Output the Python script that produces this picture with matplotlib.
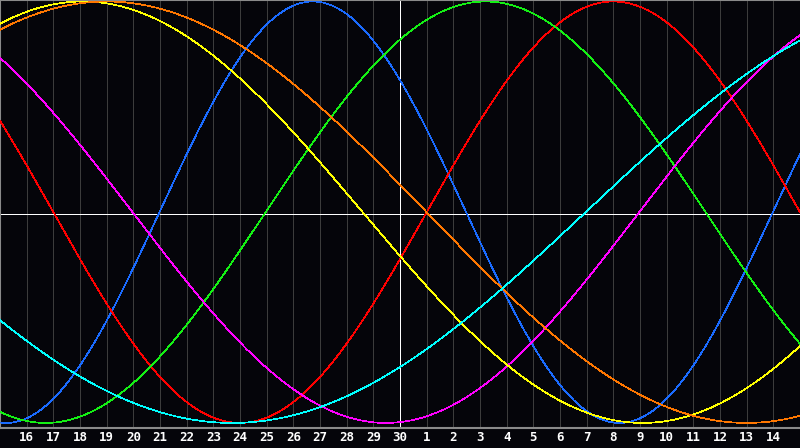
import numpy as np
import matplotlib
matplotlib.use("Agg")
import matplotlib.pyplot as plt

# day labels under the grid lines (day index 1..29, centre line is index 15)
day_labels = [str(d) for d in range(16, 31)] + [str(d) for d in range(1, 15)]

# cycles: period in days and day index of the rising zero crossing
cycle_names = ["physical", "emotional", "intellectual", "intuitive", "aesthetic", "awareness", "spiritual"]
cycle_periods = [23, 28, 33, 38, 42, 48, 53]
cycle_rise_day = [5.98, 16.0, 9.96, 23.97, -7.4, -8.0, 21.96]
cycle_colors = ["#1a6bff", "#ff0000", "#14f014", "#ff00ff", "#ffff00", "#ff7700", "#00ffff"]

n_days = 30
centre_day = 15

fig = plt.figure(figsize=(8, 4.48), dpi=100, facecolor="#05050a")
ax = fig.add_axes([0, 20 / 448, 1, 428 / 448])
ax.set_facecolor("#05050a")

ax.set_xlim(0, n_days)
ax.set_ylim(-1.024, 1.007)

# day grid
ticks = np.arange(1, n_days)
ax.set_xticks(ticks)
ax.set_xticklabels(day_labels, family="DejaVu Sans Mono", fontweight="bold",
                   fontsize=9, color="white")
ax.tick_params(axis="x", length=0, pad=2.5)
ax.set_yticks([])
for d in ticks:
    if d != centre_day:
        ax.axvline(d, color="#3c3c3c", lw=0.72, antialiased=False, zorder=1)

ax.axvline(centre_day, color="white", lw=0.72, antialiased=False, zorder=2)
ax.axhline(-0.008, color="white", lw=0.72, antialiased=False, zorder=2)

t = np.linspace(0, n_days, 1201)
for name, period, rise, col in zip(cycle_names, cycle_periods, cycle_rise_day, cycle_colors):
    ax.plot(t, np.sin(2 * np.pi * (t - rise) / period), color=col, lw=0.5,
            antialiased=False, zorder=3, label=name)

for side in ["left", "top", "bottom"]:
    ax.spines[side].set_color("#8a8a8a")
    ax.spines[side].set_linewidth(1.5)
ax.spines["right"].set_visible(False)

fig.savefig("out.png", dpi=100, facecolor=fig.get_facecolor())
